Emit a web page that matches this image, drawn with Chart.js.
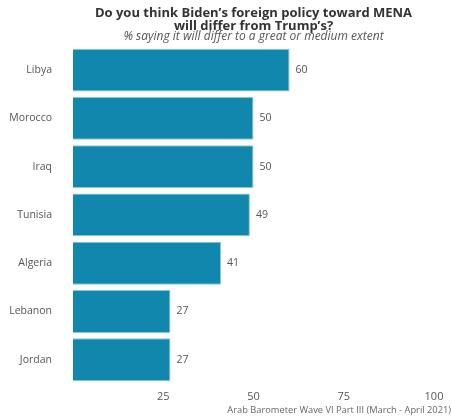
<!DOCTYPE html>
<html>
<head>
    <script src="https://cdn.jsdelivr.net/npm/chart.js"></script>
    <style>
        body {
            margin: 0;
            background: #ffffff;
        }

        #wrap {
            position: relative;
            width: 451px;
            height: 418px;
        }
    </style>
    <title>Biden vs Trump MENA policy</title>
</head>
<body>
    <div id="wrap">
        <canvas id="myChart" width="451" height="418"></canvas>
    </div>

    <script>
        var countries = ['Libya', 'Morocco', 'Iraq', 'Tunisia', 'Algeria', 'Lebanon', 'Jordan'];
        var pctDiffer = [60, 50, 50, 49, 41, 27, 27];
        var xTicks = [25, 50, 75, 100];

        var titleLines = ['Do you think Biden\u2019s foreign policy toward MENA', 'will differ from Trump\u2019s?'];
        var subtitleText = '% saying it will differ to a great or medium extent';
        var sourceText = 'Arab Barometer Wave VI Part III (March - April 2021)';

        var fontName = "'Open Sans', 'Noto Sans', sans-serif";

        // title, subtitle, value labels and source line
        var extras = {
            id: 'extras',
            afterDatasetsDraw: function (chart) {
                var ctx = chart.ctx;
                var area = chart.chartArea;
                var mid = (area.left + area.right) / 2;

                ctx.save();
                ctx.textAlign = 'center';
                ctx.textBaseline = 'middle';
                ctx.fillStyle = '#333333';
                ctx.font = "bold 13px " + fontName;
                ctx.fillText(titleLines[0], mid, 13.5);
                ctx.fillText(titleLines[1], mid, 26);

                ctx.fillStyle = '#555555';
                ctx.font = "italic 12px " + fontName;
                ctx.fillText(subtitleText, mid, 37);

                // values at bar ends
                ctx.textAlign = 'left';
                ctx.font = "10.5px " + fontName;
                ctx.fillStyle = '#555555';
                var meta = chart.getDatasetMeta(0);
                meta.data.forEach(function (bar, i) {
                    ctx.fillText(pctDiffer[i], bar.x + 6, bar.y);
                });

                ctx.textAlign = 'right';
                ctx.font = "9.3px " + fontName;
                ctx.fillStyle = '#666666';
                ctx.fillText(sourceText, chart.width, 410);
                ctx.restore();
            }
        };

        var el = document.getElementById('myChart').getContext('2d');

        var myChart = new Chart(el, {
            type: 'bar',
            data: {
                labels: countries,
                datasets: [{
                    label: '% differ',
                    data: pctDiffer,
                    backgroundColor: '#1287ae',
                    borderColor: '#8cc6dc',
                    borderWidth: 1,
                    barPercentage: 0.89,
                    categoryPercentage: 1
                }]
            },
            options: {
                indexAxis: 'y',
                responsive: false,
                animation: false,
                layout: {
                    padding: { top: 46, right: 17, bottom: 9, left: 0 }
                },
                plugins: {
                    legend: { display: false },
                    tooltip: { enabled: false }
                },
                scales: {
                    x: {
                        min: 0,
                        max: 100,
                        afterBuildTicks: function (scale) {
                            scale.ticks = [{ value: 0 }].concat(xTicks.map(function (v) { return { value: v }; }));
                        },
                        ticks: {
                            padding: 6,
                            color: '#555555',
                            font: { family: fontName, size: 11 },
                            callback: function (v) { return v === 0 ? '' : v; }
                        },
                        grid: { display: false, drawTicks: false, tickLength: 0 },
                        border: { display: false }
                    },
                    y: {
                        afterFit: function (scale) { scale.width = 73; },
                        ticks: {
                            padding: 21,
                            color: '#555555',
                            font: { family: fontName, size: 10.5 }
                        },
                        grid: { display: false, drawTicks: false, tickLength: 0 },
                        border: { display: false }
                    }
                }
            },
            plugins: [extras]
        });
    </script>
</body>
</html>
